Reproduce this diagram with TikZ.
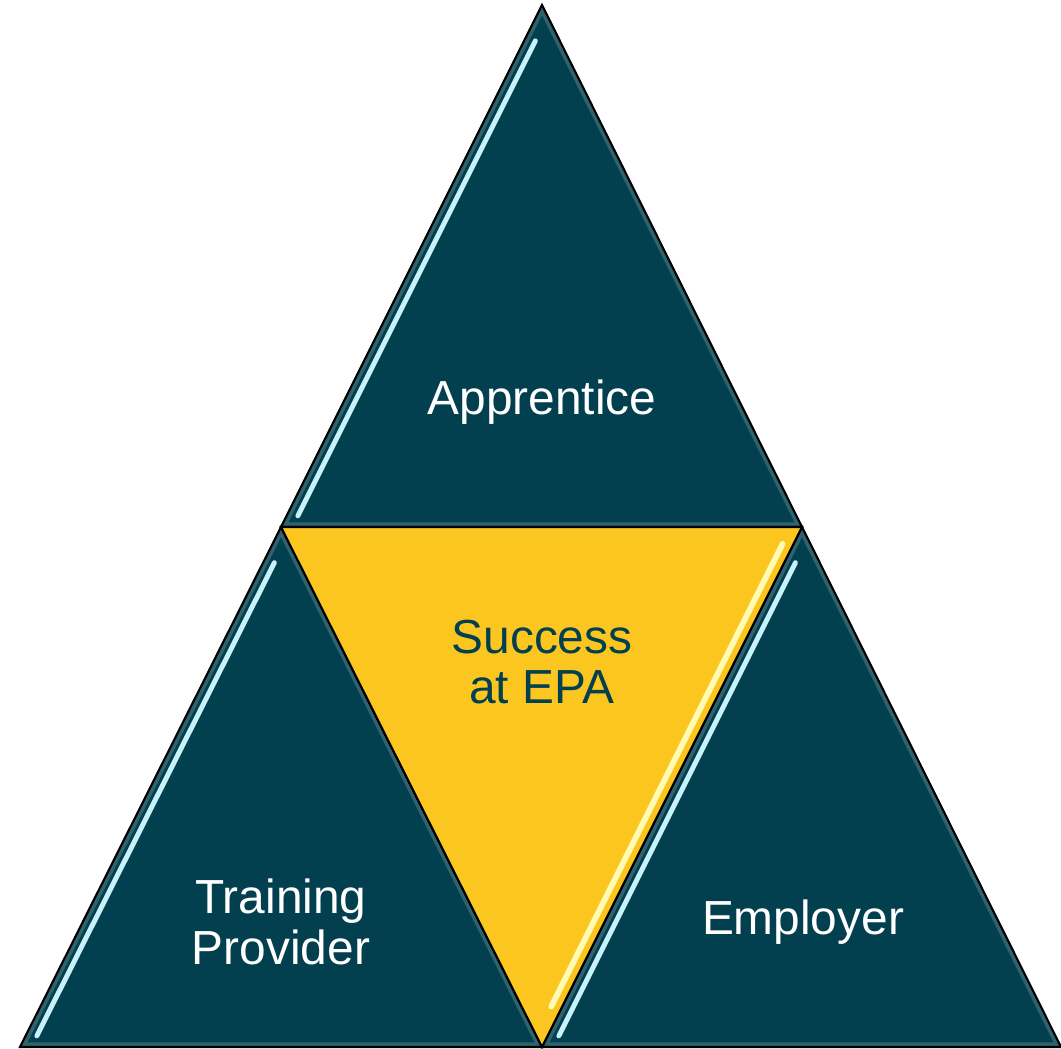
\documentclass[tikz,border=0pt]{standalone}
\usepackage{fontspec}
\setmainfont{Liberation Sans}
\usetikzlibrary{calc}
\definecolor{teal}{HTML}{03404F}
\definecolor{gold}{HTML}{FCC620}
\definecolor{glint}{HTML}{C8F2FA}
\tikzset{
	piece/.style={draw=black, line width=0.6pt, line join=miter},
	label/.style={align=center, font=\fontsize{13.6}{14.4}\selectfont},
	shine/.style={line width=1.4pt, line cap=round, color=glint},
	glow/.style={line width=2.6pt, color=teal!70!white, opacity=0.6}
}
\begin{document}
\begin{tikzpicture}[x=0.01cm, y=-0.01cm]
	\useasboundingbox (0,0) rectangle (1061,1049);
	\coordinate (top) at (542,5);
	\coordinate (ml) at (281,527);
	\coordinate (mr) at (802,527);
	\coordinate (bl) at (20,1047);
	\coordinate (bm) at (542,1047);
	\coordinate (br) at (1061,1047);
	% teal pieces with soft inner glow
	\foreach \a/\b/\c in {top/ml/mr, ml/bl/bm, mr/bm/br}{
		\fill[teal] (\a) -- (\b) -- (\c) -- cycle;
		\begin{scope}
			\clip (\a) -- (\b) -- (\c) -- cycle;
			\draw[glow] (\a) -- (\b) -- (\c) -- cycle;
		\end{scope}
		\draw[shine] ($(\a)!0.06!(\b)+(9,4.5)$) -- ($(\a)!0.97!(\b)+(9,4.5)$);
		\draw[piece] (\a) -- (\b) -- (\c) -- cycle;
	}
	% middle piece
	\fill[gold] (ml) -- (mr) -- (bm) -- cycle;
	\draw[line width=1.6pt, line cap=round, color=yellow!30!white] ($(mr)!0.04!(bm)+(-9,-4)$) -- ($(mr)!0.93!(bm)+(-9,-4)$);
	\draw[piece] (ml) -- (mr) -- (bm) -- cycle;
	% labels
	\node[label, text=white] (apprentice) at (542,402) {Apprentice};
	\node[label, text=teal] (success) at (542,662) {Success\\at EPA};
	\node[label, text=white] (provider) at (281,922) {Training\\Provider};
	\node[label, text=white] (employer) at (803,922) {Employer};
\end{tikzpicture}
\end{document}
